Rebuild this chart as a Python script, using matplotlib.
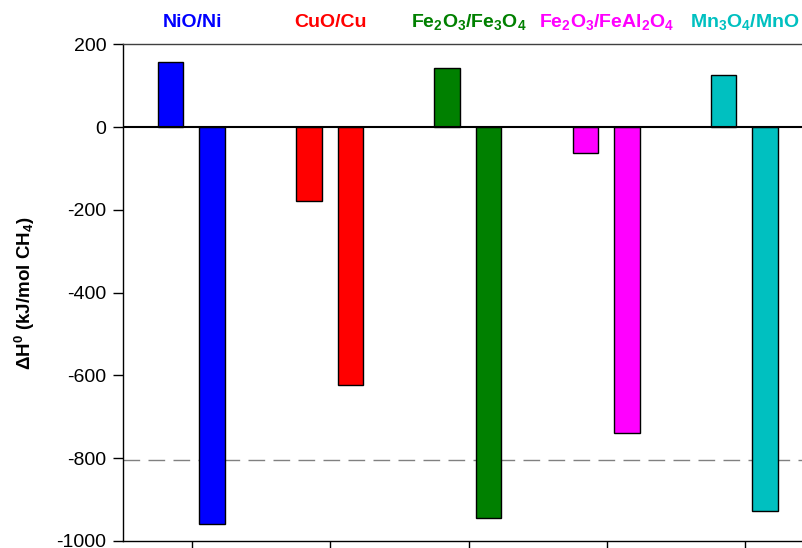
import matplotlib.pyplot as plt
import numpy as np

plt.rcParams['font.family'] = ['Liberation Sans', 'DejaVu Sans']
plt.rcParams['mathtext.fontset'] = 'custom'
plt.rcParams['mathtext.rm'] = 'Liberation Sans:bold'
plt.rcParams['mathtext.it'] = 'Liberation Sans:bold'
plt.rcParams['mathtext.bf'] = 'Liberation Sans:bold'
plt.rcParams['mathtext.default'] = 'rm'
plt.rcParams['axes.unicode_minus'] = False

# data (kJ/mol CH4)
pairs = [r'NiO/Ni', r'CuO/Cu', r'Fe$_2$O$_3$/Fe$_3$O$_4$',
         r'Fe$_2$O$_3$/FeAl$_2$O$_4$', r'Mn$_3$O$_4$/MnO']
colors = ['#0000ff', '#ff0000', '#008000', '#ff00ff', '#00c0c0']
dh_first = [158, -178, 142, -62, 127]
dh_second = [-959, -623, -944, -740, -928]
ref_line = -805

x = np.arange(len(pairs))
w = 0.185

fig = plt.figure(figsize=(8.03, 5.48), dpi=100)
ax = fig.add_axes([0.1532, 0.0128, 0.8605, 0.906])

ax.bar(x - 0.155, dh_first, w, color=colors, edgecolor='black', linewidth=1.0, zorder=3)
ax.bar(x + 0.145, dh_second, w, color=colors, edgecolor='black', linewidth=1.0, zorder=3)

ax.axhline(0, color='black', linewidth=1.5, zorder=4)
ax.axhline(ref_line, color='#808080', linewidth=1.0, dashes=(12, 6), zorder=2)

ax.set_xlim(-0.5, 4.5)
ax.set_ylim(-1000, 200)
ax.set_yticks(np.arange(-1000, 201, 200))
ax.set_xticks(x)
ax.set_xticklabels([])
ax.tick_params(axis='both', direction='out', length=7, width=1.0, labelsize=14, pad=5)
for s in ax.spines.values():
    s.set_linewidth(1.0)
ax.spines['top'].set_color('#404040')

for i, (name, c) in enumerate(zip(pairs, colors)):
    ax.text(i, 1.045, name, transform=ax.get_xaxis_transform(), ha='center', va='center',
            color=c, fontsize=14, fontweight='bold')

fig.text(0.031, 0.465, r'$\Delta$H$^0$ (kJ/mol CH$_4$)', rotation=90, ha='center', va='center',
         fontsize=13.5, fontweight='bold')

fig.savefig('out.png', dpi=100)
